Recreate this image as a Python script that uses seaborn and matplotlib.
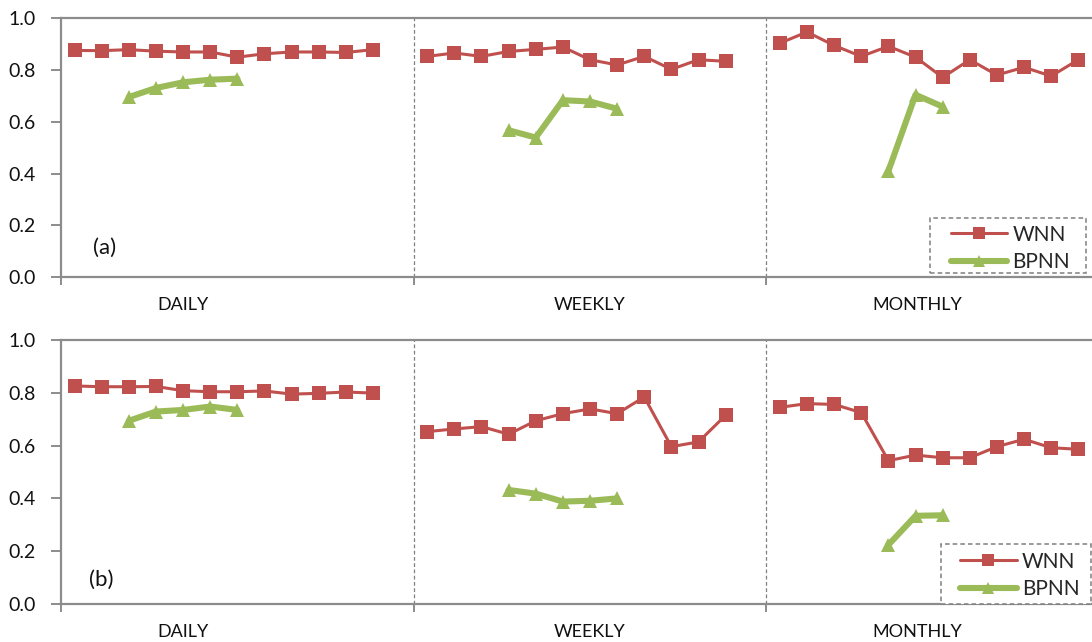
import numpy as np
import pandas as pd
import matplotlib
matplotlib.use("Agg")
import matplotlib.pyplot as plt
from matplotlib.lines import Line2D
from matplotlib.patches import Rectangle
import seaborn as sns

# ---- data -------------------------------------------------------------
groups = ["DAILY", "WEEKLY", "MONTHLY"]
leads = list(range(1, 13))            # 12 lead times per time scale

# panel (a)
wnn_a_daily   = [0.875, 0.874, 0.878, 0.872, 0.869, 0.869, 0.849, 0.862, 0.869, 0.869, 0.867, 0.878]
wnn_a_weekly  = [0.852, 0.865, 0.852, 0.871, 0.879, 0.888, 0.839, 0.819, 0.852, 0.802, 0.839, 0.833]
wnn_a_monthly = [0.903, 0.946, 0.894, 0.852, 0.891, 0.849, 0.771, 0.839, 0.780, 0.810, 0.776, 0.839]
bpnn_a_daily   = [0.695, 0.730, 0.752, 0.762, 0.766]
bpnn_a_weekly  = [0.567, 0.539, 0.683, 0.678, 0.650]
bpnn_a_monthly = [0.410, 0.704, 0.658]

# panel (b)
wnn_b_daily   = [0.826, 0.823, 0.823, 0.824, 0.808, 0.804, 0.804, 0.807, 0.795, 0.798, 0.803, 0.799]
wnn_b_weekly  = [0.653, 0.663, 0.672, 0.643, 0.694, 0.721, 0.739, 0.721, 0.784, 0.596, 0.614, 0.715]
wnn_b_monthly = [0.745, 0.759, 0.756, 0.725, 0.543, 0.564, 0.554, 0.554, 0.596, 0.624, 0.592, 0.586]
bpnn_b_daily   = [0.694, 0.729, 0.735, 0.748, 0.735]
bpnn_b_weekly  = [0.432, 0.418, 0.388, 0.391, 0.400]
bpnn_b_monthly = [0.224, 0.334, 0.336]

# lead times covered by BPNN on each time scale
bpnn_leads_daily   = [3, 4, 5, 6, 7]
bpnn_leads_weekly  = [4, 5, 6, 7, 8]
bpnn_leads_monthly = [5, 6, 7]

y_ticks = [0.0, 0.2, 0.4, 0.6, 0.8, 1.0]
panel_labels = ["(a)", "(b)"]
series_names = ["WNN", "BPNN"]

# ---- styling ----------------------------------------------------------
sns.set_theme(style="white")
plt.rcParams["font.family"] = ["Lato", "DejaVu Sans"]

RED = "#C0504D"
GREEN = "#9BBB59"
GRAY = "#8C8C8C"
TEXT = "#111111"
FS = 13
SLOTS = 13  # category slots per time scale (12 leads + one spacer)
WNN_STYLE = dict(color=RED, lw=2.2, marker="s", markersize=9.5, markeredgewidth=0)
BPNN_STYLE = dict(color=GREEN, lw=4.4, marker="^", markersize=10, markeredgewidth=0)


def frame(scale_idx, lead_list, values, model):
    x = [scale_idx * SLOTS + (l - 1) for l in lead_list]
    return pd.DataFrame({"x": x, "value": values, "model": model})


panels = [
    dict(wnn=[wnn_a_daily, wnn_a_weekly, wnn_a_monthly],
         bpnn=[bpnn_a_daily, bpnn_a_weekly, bpnn_a_monthly],
         rect=[61 / 1092, 1 - 277.3 / 642, 1058 / 1092, 259.3 / 642],
         label_xy=(1.1, 0.113),
         box=(0.8214, 0.0166, 0.9688, 0.2287),
         leg_anchor=(0.841, 0.203)),
    dict(wnn=[wnn_b_daily, wnn_b_weekly, wnn_b_monthly],
         bpnn=[bpnn_b_daily, bpnn_b_weekly, bpnn_b_monthly],
         rect=[61 / 1092, 1 - 604 / 642, 1058 / 1092, 264 / 642],
         label_xy=(1.0, 0.091),
         box=(0.8318, 0.0, 0.9735, 0.227),
         leg_anchor=(0.850, 0.198)),
]
bpnn_leads = [bpnn_leads_daily, bpnn_leads_weekly, bpnn_leads_monthly]
group_label_x = [4.0, 19.0, 31.05]

fig = plt.figure(figsize=(10.92, 6.42), dpi=100)

for p, spec in enumerate(panels):
    ax = fig.add_axes(spec["rect"])
    for g in range(3):
        dw = frame(g, leads, spec["wnn"][g], "WNN")
        sns.lineplot(data=dw, x="x", y="value", ax=ax, sort=False,
                     estimator=None, legend=False, zorder=3, **WNN_STYLE)
        db = frame(g, bpnn_leads[g], spec["bpnn"][g], "BPNN")
        sns.lineplot(data=db, x="x", y="value", ax=ax, sort=False,
                     estimator=None, legend=False, zorder=3, **BPNN_STYLE)

    ax.set_xlim(-0.5, 3 * SLOTS - 0.5)
    ax.set_ylim(0, 1.0)
    ax.set_xlabel("")
    ax.set_ylabel("")

    # y axis
    ax.set_yticks(y_ticks)
    ax.set_yticklabels([f"{v:.1f}" for v in y_ticks], fontsize=14, color=TEXT)
    ax.tick_params(axis="y", direction="out", length=7, width=1.4, color=GRAY,
                   pad=11, left=True)

    # x axis: ticks at the time-scale boundaries, names centred below
    bounds = [g * SLOTS - 0.5 for g in range(4)]
    ax.set_xticks(bounds)
    ax.set_xticklabels([""] * len(bounds))
    ax.tick_params(axis="x", direction="out", length=6, width=1.4, color=GRAY,
                   bottom=True)
    for g, name in enumerate(groups):
        ax.annotate(name, xy=(group_label_x[g], 0),
                    xycoords=("data", "axes fraction"),
                    xytext=(0, -28), textcoords="offset pixels",
                    ha="center", va="center", fontsize=FS, color=TEXT,
                    annotation_clip=False)

    # dashed separators between time scales
    for b in bounds[1:3]:
        ax.axvline(b, color="#808080", lw=0.9, ls=(0, (3, 2)), zorder=1)

    for side in ["left", "bottom", "top"]:
        ax.spines[side].set_color(GRAY)
        ax.spines[side].set_linewidth(1.6)
    ax.spines["right"].set_visible(False)
    ax.grid(False)

    ax.text(spec["label_xy"][0], spec["label_xy"][1], panel_labels[p],
            fontsize=16, ha="center", va="center", color=TEXT)

    # legend with a dashed outline box
    x0, y0, x1, y1 = spec["box"]
    ax.add_patch(Rectangle((x0, y0), x1 - x0, y1 - y0, transform=ax.transAxes,
                           facecolor="white", edgecolor="#7F7F7F", lw=1.1,
                           ls=(0, (3, 2)), zorder=4, clip_on=False))
    handles = [Line2D([], [], **WNN_STYLE), Line2D([], [], **BPNN_STYLE)]
    handles[0].set_markersize(9)
    handles[1].set_markersize(8)
    leg = ax.legend(handles, series_names, loc="upper left",
                    bbox_to_anchor=spec["leg_anchor"], fontsize=15,
                    frameon=False, handlelength=2.7, handletextpad=0.25,
                    borderpad=0, labelspacing=0.35, borderaxespad=0)
    leg.set_zorder(5)

fig.savefig("out.png", dpi=100, facecolor="white")
